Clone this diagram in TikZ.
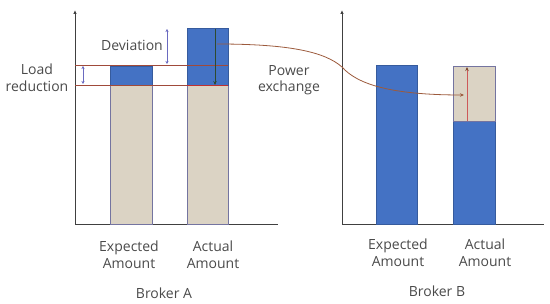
\documentclass[tikz,border=0pt]{standalone}
\usepackage{fontspec}
\setmainfont{Open Sans}
\usetikzlibrary{arrows.meta}
\definecolor{barblue}{HTML}{4472C4}
\definecolor{beige}{HTML}{DBD3C4}
\definecolor{beigeedge}{HTML}{7474A0}
\definecolor{axisgray}{HTML}{404040}
\definecolor{txtgray}{HTML}{4A4A4A}
\definecolor{lineA}{HTML}{A04A3A}
\definecolor{redline}{HTML}{C03030}
\definecolor{brownarr}{HTML}{9C5A3C}
\definecolor{dimarr}{HTML}{6A6AC0}
\definecolor{darkgreen}{HTML}{2E4A2E}
\begin{document}
\begin{tikzpicture}[x=1pt,y=-1pt,
  axis/.style={draw=axisgray,line width=0.9pt},
  bluebar/.style={fill=barblue,draw=barblue!80!black,line width=0.4pt},
  beigebar/.style={fill=beige,draw=beigeedge,line width=0.6pt},
  lbl/.style={text=txtgray,font=\fontsize{14}{16.5}\selectfont,align=center,inner sep=0pt},
  dimarrow/.style={draw=dimarr,line width=0.6pt,{Stealth[length=3pt,width=3pt]}-{Stealth[length=3pt,width=3pt]}},
  level/.style={draw=lineA,line width=0.6pt}]
\useasboundingbox (0,0) rectangle (550,304);
% Broker A axes
\coordinate (aO) at (75,224);
\coordinate (aTop) at (75,10);
\coordinate (aEnd) at (278,224);
\draw[axis,-{Latex[length=4pt,width=3.5pt]}] (aO) -- (aTop);
\draw[axis] (aO) -- (aEnd);
% Broker A bars
\draw[beigebar] (110,85) rectangle (152,224);
\draw[bluebar] (110,66) rectangle (152,85);
\draw[beigebar] (187,85) rectangle (228,224);
\draw[bluebar] (187,28) rectangle (228,85);
% level lines
\coordinate (l1a) at (75,65.5);
\coordinate (l1b) at (228,65.5);
\coordinate (l2a) at (75,85);
\coordinate (l2b) at (228,85);
\draw[level] (l1a) -- (l1b);
\draw[level] (l2a) -- (l2b);
\draw[draw=redline,line width=0.8pt] (187,85) -- (228,85);
% dimension arrows
\coordinate (ld1) at (83,66);
\coordinate (ld2) at (83,84);
\draw[dimarrow] (ld1) -- (ld2);
\coordinate (dv1) at (167,29);
\coordinate (dv2) at (167,64);
\draw[dimarrow] (dv1) -- (dv2);
% dark arrow in actual bar
\coordinate (dg1) at (215,29);
\coordinate (dg2) at (215,85);
\draw[draw=darkgreen,line width=0.7pt,-{Stealth[length=4pt,width=3.5pt]}] (dg1) -- (dg2);
% Broker B axes
\coordinate (bO) at (342,224);
\coordinate (bTop) at (342,10);
\coordinate (bEnd) at (544,224);
\draw[axis,-{Latex[length=4pt,width=3.5pt]}] (bO) -- (bTop);
\draw[axis] (bO) -- (bEnd);
% Broker B bars
\draw[bluebar] (376,65) rectangle (417,224);
\draw[bluebar] (453,121) rectangle (495,224);
\draw[beigebar] (453,66) rectangle (495,121);
% red arrow
\coordinate (ra1) at (467,121);
\coordinate (ra2) at (467,67);
\draw[draw=redline!80!white,line width=0.9pt,-{Stealth[length=4pt,width=3.5pt,color=brownarr!80!black]}] (ra1) -- (ra2);
% power exchange curve
\coordinate (pc1) at (217,44);
\coordinate (pcm) at (342,67);
\coordinate (pc2) at (464,95);
\draw[draw=brownarr,line width=0.8pt,-{Stealth[length=4pt,width=3.5pt]}] (pc1) .. controls (290,44) and (325,52) .. (pcm) .. controls (357,84) and (390,95) .. (pc2);
% labels
\node[lbl] (tdev) at (132,45) {Deviation};
\node[lbl] (tload) at (37,78) {Load\\reduction};
\node[lbl] (tpow) at (289,80) {Power\\exchange};
\node[lbl] (tea) at (129,255) {Expected\\Amount};
\node[lbl] (taa) at (213,255) {Actual\\Amount};
\node[lbl] (tba) at (164,293) {Broker A};
\node[lbl] (teb) at (398,253) {Expected\\Amount};
\node[lbl] (tab) at (485,253) {Actual\\Amount};
\node[lbl] (tbb) at (437,291) {Broker B};
\end{tikzpicture}
\end{document}
